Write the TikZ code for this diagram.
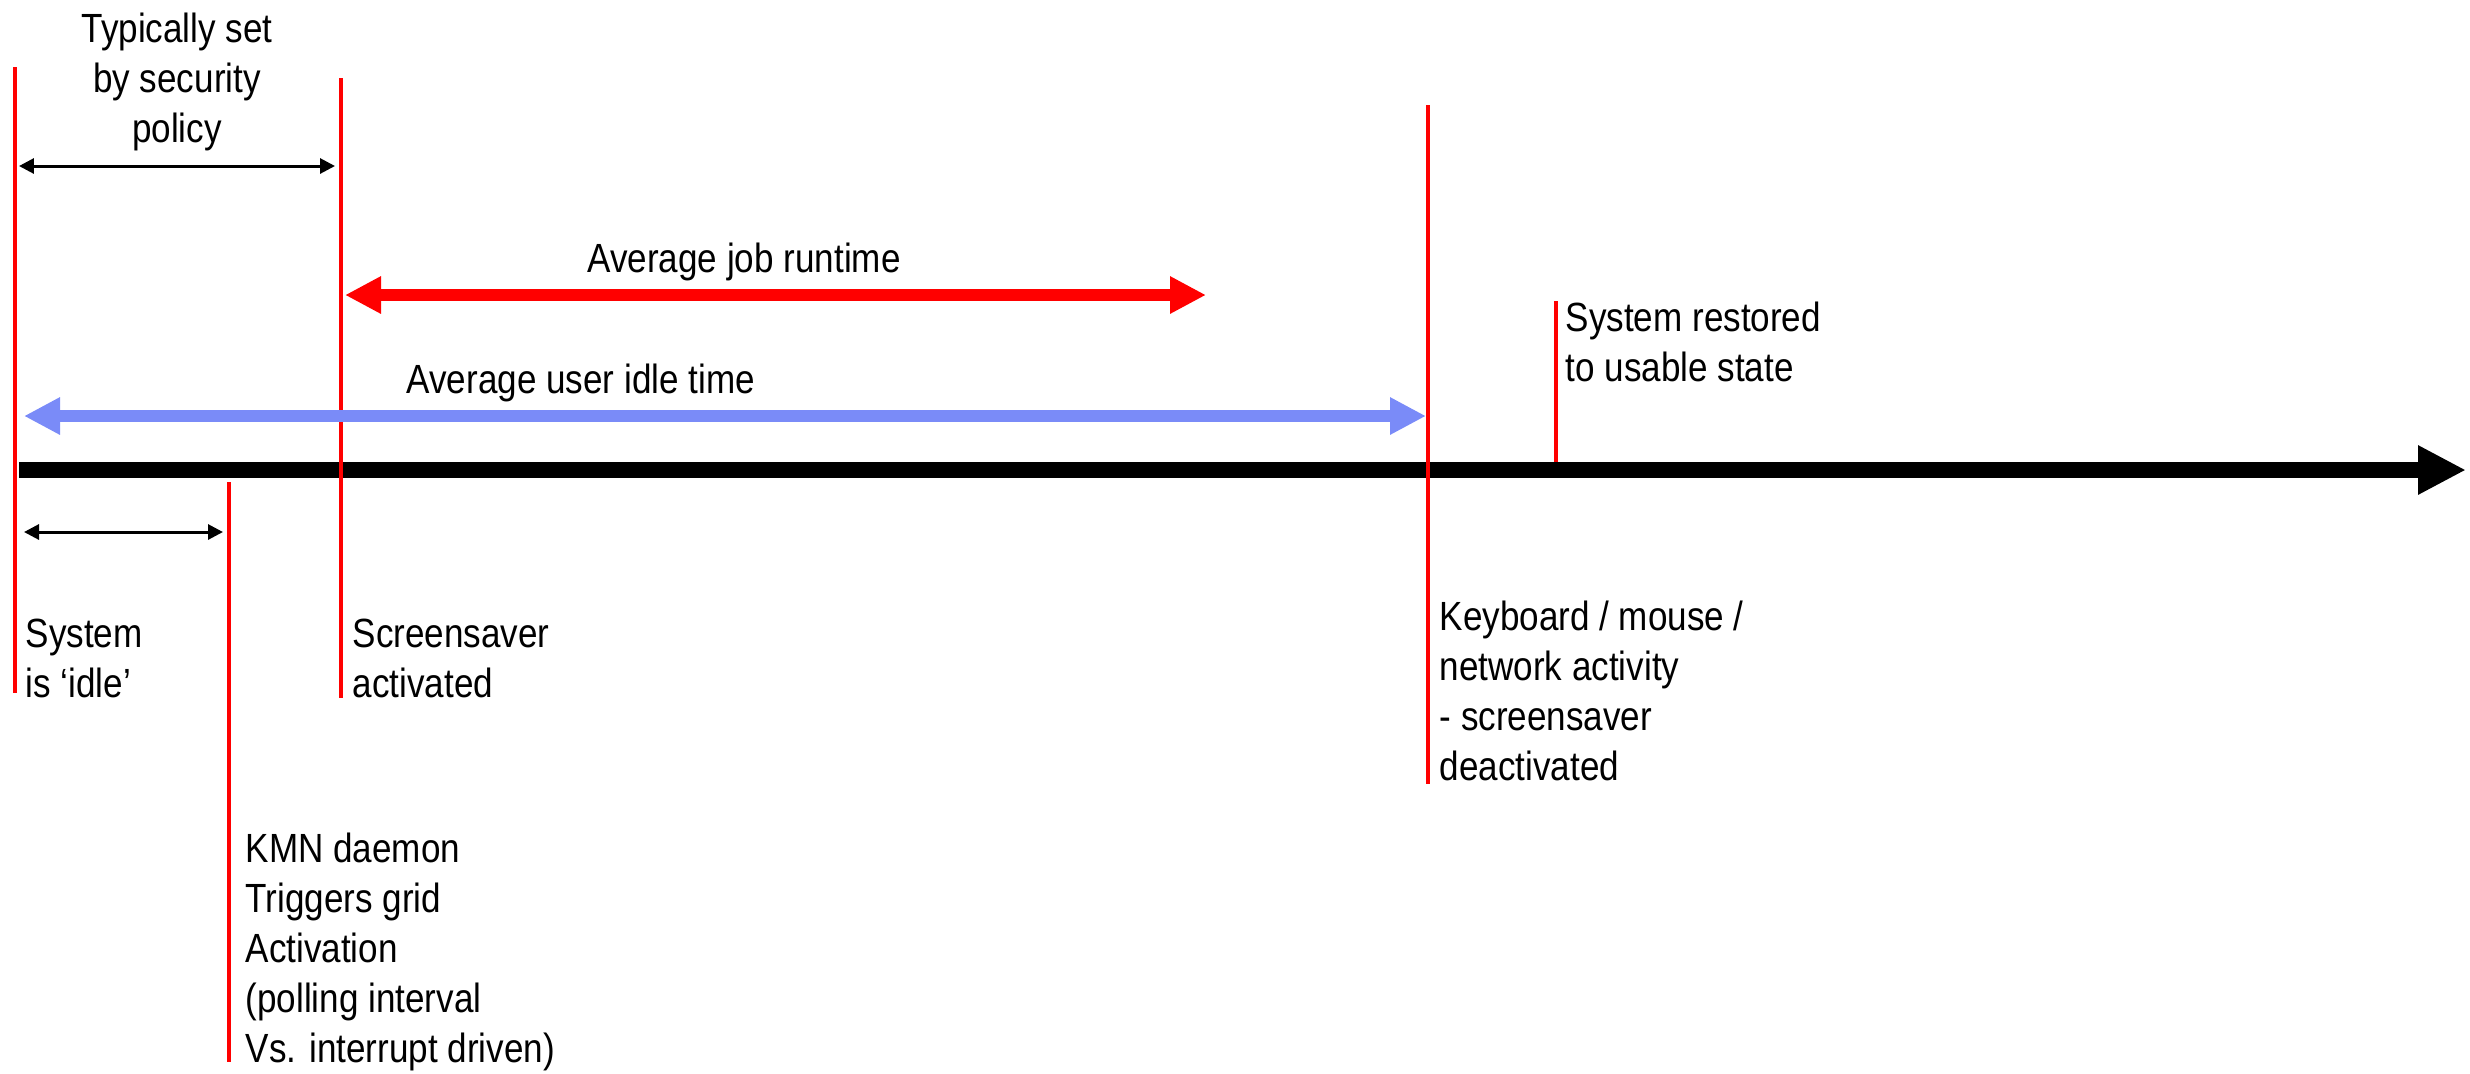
\documentclass[tikz,border=0pt]{standalone}
\usepackage{fontspec}
\setmainfont{Liberation Sans}[FakeStretch=0.86]
\usetikzlibrary{arrows.meta}
\definecolor{idleblue}{RGB}{122,139,248}

\tikzset{
  marker/.style={red, line width=0.9pt},
  interval/.style={line width=0.85pt,
    {Triangle[length=0.15cm,width=0.15cm]}-{Triangle[length=0.15cm,width=0.15cm]}},
  bigspan/.style={line width=3.4pt,
    {Triangle[length=0.36cm,width=0.35cm]}-{Triangle[length=0.36cm,width=0.35cm]}},
  tlabel/.style={inner sep=0pt, align=left, anchor=base west,
    font=\fontsize{11.6pt}{14.2pt}\selectfont},
}

\begin{document}
\begin{tikzpicture}
  \useasboundingbox (0,0) rectangle (24.70,-10.73);

  % Time axis
  \coordinate (start) at (0.19,-4.70);
  \coordinate (end) at (24.66,-4.70);
  \draw[line width=4.55pt, -{Triangle[length=0.48cm,width=0.46cm]}] (start) -- (end);

  % Event markers
  \foreach \x/\ya/\yb in {0.15/0.67/6.93, 2.29/4.82/10.62, 3.41/0.78/6.98,
                          14.28/1.05/7.84, 15.56/3.01/4.62}
    \draw[marker] (\x,-\ya) -- (\x,-\yb);

  % Spans
  \coordinate (polA) at (0.19,-1.66);  \coordinate (polB) at (3.35,-1.66);
  \coordinate (kmnA) at (0.24,-5.32);  \coordinate (kmnB) at (2.23,-5.32);
  \coordinate (jobA) at (3.45,-2.95);  \coordinate (jobB) at (12.06,-2.95);
  \coordinate (usrA) at (0.24,-4.16);  \coordinate (usrB) at (14.26,-4.16);
  \draw[interval] (polA) -- (polB);
  \draw[interval] (kmnA) -- (kmnB);
  \draw[bigspan, red] (jobA) -- (jobB);
  \draw[bigspan, idleblue] (usrA) -- (usrB);

  % Labels (placed on the baseline of their last line)
  \node[tlabel, align=center, anchor=base] (policy) at (1.77,-1.42)
    {Typically set\\by security\\policy};
  \node[tlabel, anchor=base] (job) at (7.44,-2.72) {Average job runtime};
  \node[tlabel] (usr) at (4.06,-3.93) {Average user idle time};
  \node[tlabel] (restored) at (15.65,-3.81) {System restored\\to usable state};
  \node[tlabel] (idle) at (0.25,-6.97) {System\\is ‘idle’};
  \node[tlabel] (saver) at (3.52,-6.97) {Screensaver\\activated};
  \node[tlabel] (activity) at (14.39,-7.80)
    {Keyboard / mouse /\\network activity\\- screensaver\\deactivated};
  \node[tlabel] (kmn) at (2.45,-10.62)
    {KMN daemon\\Triggers grid\\Activation\\(polling interval\\Vs. interrupt driven)};
\end{tikzpicture}
\end{document}
